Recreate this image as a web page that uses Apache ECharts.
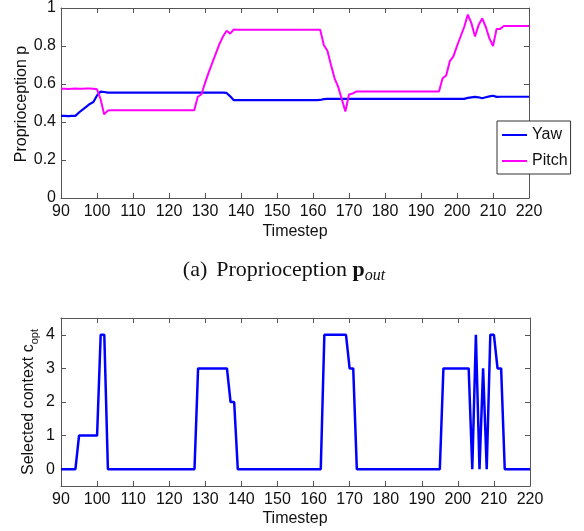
<!DOCTYPE html>
<html><head><meta charset="utf-8">
<script src="https://cdn.jsdelivr.net/npm/echarts@6/dist/echarts.min.js"></script>
<style>html,body{margin:0;padding:0;background:#fff}#c{width:584px;height:531px}</style>
</head><body><div id="c"></div>
<script>
const timesteps = [90,91,92,93,94,95,96,97,98,99,100,101,102,103,104,105,106,107,108,109,110,111,112,113,114,115,116,117,118,119,120,121,122,123,124,125,126,127,128,129,130,131,132,133,134,135,136,137,138,139,140,141,142,143,144,145,146,147,148,149,150,151,152,153,154,155,156,157,158,159,160,161,162,163,164,165,166,167,168,169,170,171,172,173,174,175,176,177,178,179,180,181,182,183,184,185,186,187,188,189,190,191,192,193,194,195,196,197,198,199,200,201,202,203,204,205,206,207,208,209,210,211,212,213,214,215,216,217,218,219,220];
const yaw = [0.432,0.432,0.431,0.432,0.432,
  0.45,0.465,0.48,0.495,0.505,0.54,0.56,0.558,
  0.555,0.555,0.555,0.555,0.555,0.555,0.555,0.555,0.555,0.555,0.555,0.555,0.555,0.555,0.555,0.555,0.555,0.555,0.555,0.555,0.555,0.555,0.555,0.555,0.555,0.555,0.555,0.555,0.555,0.555,0.555,0.555,0.555,0.553,
  0.535,0.515,
  0.515,0.515,0.515,0.515,0.515,0.515,0.515,0.515,0.515,0.515,0.515,0.515,0.515,0.515,0.515,0.515,0.515,0.515,0.515,0.515,0.515,0.515,0.515,0.516,
  0.52,0.522,0.522,0.522,0.522,0.522,0.522,0.522,0.522,0.522,0.522,0.522,0.522,0.522,0.522,0.522,0.522,0.522,0.522,0.522,0.522,0.522,0.522,0.522,0.522,0.522,0.522,0.522,0.522,0.522,0.522,0.522,0.522,0.522,0.522,0.522,0.522,0.522,0.522,0.522,
  0.527,0.53,0.532,0.53,0.525,0.53,0.535,0.538,0.532,
  0.533,0.533,0.533,0.533,0.533,0.533,0.533,0.533,0.533];
const pitch = [0.575,0.575,0.574,0.575,0.576,0.575,0.575,0.576,0.576,0.575,0.572,
  0.52,0.44,0.46,
  0.462,0.462,0.462,0.462,0.462,0.462,0.462,0.462,0.462,0.462,0.462,0.462,0.462,0.462,0.462,0.462,0.462,0.462,0.462,0.462,0.462,0.462,0.462,0.462,
  0.533,0.545,0.605,0.66,0.71,0.76,0.81,0.85,0.88,0.865,0.887,
  0.885,0.885,0.885,0.885,0.885,0.885,0.885,0.885,0.885,0.885,0.885,0.885,0.885,0.885,0.885,0.885,0.885,0.885,0.885,0.885,0.885,0.885,0.885,0.885,
  0.805,0.775,0.70,0.63,0.585,0.52,0.455,0.545,0.55,0.56,
  0.56,0.56,0.56,0.56,0.56,0.56,0.56,0.56,0.56,0.56,0.56,0.56,0.56,0.56,0.56,0.56,0.56,0.56,0.56,0.56,0.56,0.56,0.56,
  0.63,0.645,0.72,0.745,0.80,0.85,0.90,0.965,0.92,0.85,0.91,0.945,0.90,0.84,0.80,0.89,0.89,0.905,
  0.905,0.905,0.905,0.905,0.905,0.905,0.905];
const context = [0,0,0,0,0,
  1,1,1,1,1,1,
  4,4,
  0,0,0,0,0,0,0,0,0,0,0,0,0,0,0,0,0,0,0,0,0,0,0,0,0,
  3,3,3,3,3,3,3,3,3,
  2,2,
  0,0,0,0,0,0,0,0,0,0,0,0,0,0,0,0,0,0,0,0,0,0,0,0,
  4,4,4,4,4,4,4,
  3,3,
  0,0,0,0,0,0,0,0,0,0,0,0,0,0,0,0,0,0,0,0,0,0,0,0,
  3,3,3,3,3,3,3,3,
  0,4,0,3,0,4,4,3,3,
  0,0,0,0,0,0,0,0];
const pTicks = [0,0.2,0.4,0.6,0.8,1];
const cTicks = [0,1,2,3,4];

const FONT = '"Liberation Sans", Arial, Helvetica, sans-serif';
const SERIF = '"Liberation Serif", "Times New Roman", serif';
const AX = '#555';
const pairs = (ys) => timesteps.map((t, i) => [t, ys[i]]);

function xAx(gi, pos, labels) {
  return {
    type: 'value', gridIndex: gi, position: pos, min: 90, max: 220, interval: 10,
    axisLine: { show: true, onZero: false, lineStyle: { color: AX, width: 1 } },
    axisTick: { show: true, inside: true, length: 5, lineStyle: { color: AX } },
    axisLabel: { show: labels, margin: 6, fontSize: 16, fontFamily: FONT, color: '#111' },
    splitLine: { show: false }
  };
}
function yAx(gi, pos, labels, extra) {
  return Object.assign({
    type: 'value', gridIndex: gi, position: pos,
    axisLine: { show: true, onZero: false, lineStyle: { color: AX, width: 1 } },
    axisTick: { show: true, inside: true, length: 5, lineStyle: { color: AX } },
    axisLabel: { show: labels, margin: 5, fontSize: 16, fontFamily: FONT, color: '#111' },
    splitLine: { show: false }
  }, extra);
}

const chart = echarts.init(document.getElementById('c'), null, { renderer: 'canvas' });
chart.setOption({
  animation: false,
  backgroundColor: '#fff',
  grid: [
    { left: 61, top: 8, width: 468, height: 190 },
    { left: 61, top: 318, width: 469, height: 168 }
  ],
  xAxis: [xAx(0, 'bottom', true), xAx(0, 'top', false), xAx(1, 'bottom', true), xAx(1, 'top', false)],
  yAxis: [
    yAx(0, 'left', true, { min: 0, max: 1, interval: 0.2 }),
    yAx(0, 'right', false, { min: 0, max: 1, interval: 0.2 }),
    (function(){ const a = yAx(1, 'left', true, { min: -0.5, max: 4.5 }); a.axisTick.customValues = cTicks; a.axisLabel.customValues = cTicks; a.axisLabel.margin = 6; return a; })(),
    (function(){ const a = yAx(1, 'right', false, { min: -0.5, max: 4.5 }); a.axisTick.customValues = cTicks; a.axisLabel.customValues = cTicks; return a; })()
  ],
  legend: {
    data: ['Yaw', 'Pitch'], orient: 'vertical', left: 497, top: 121,
    padding: [5, 3, 4, 5], itemWidth: 25, itemHeight: 2, itemGap: 8, icon: 'rect',
    backgroundColor: '#fff', borderColor: '#333', borderWidth: 1, borderRadius: 0,
    textStyle: { fontSize: 16, fontFamily: FONT, color: '#111', lineHeight: 18 }
  },
  series: [
    { name: 'Yaw', type: 'line', xAxisIndex: 0, yAxisIndex: 0, data: pairs(yaw), symbol: 'none',
      lineStyle: { color: '#0000ff', width: 2.2 }, itemStyle: { color: '#0000ff' } },
    { name: 'Pitch', type: 'line', xAxisIndex: 0, yAxisIndex: 0, data: pairs(pitch), symbol: 'none',
      lineStyle: { color: '#ff00ff', width: 2 }, itemStyle: { color: '#ff00ff' } },
    { name: 'Context', type: 'line', xAxisIndex: 2, yAxisIndex: 2, data: pairs(context), symbol: 'none',
      lineStyle: { color: '#0000ff', width: 2.5 }, itemStyle: { color: '#0000ff' } }
  ],
  graphic: [
    { type: 'text', x: 22, y: 104, rotation: Math.PI / 2,
      style: { text: 'Proprioception p', font: '16px ' + FONT, fill: '#111', align: 'center', verticalAlign: 'middle', textAlign: 'center', textVerticalAlign: 'middle' } },
    { type: 'text', x: 295, y: 232,
      style: { text: 'Timestep', font: '16px ' + FONT, fill: '#111', align: 'center', verticalAlign: 'middle', textAlign: 'center', textVerticalAlign: 'middle' } },
    { type: 'text', x: 284, y: 270,
      style: { text: '{a|(a)}{n|Proprioception }{b|p}{s|out}', align: 'center', verticalAlign: 'middle', textAlign: 'center', textVerticalAlign: 'middle', fill: '#111',
        rich: {
          a: { fontFamily: SERIF, fontSize: 22, lineHeight: 28, padding: [0, 9, 0, 0], color: '#111' },
          n: { fontFamily: SERIF, fontSize: 22, lineHeight: 28, color: '#111' },
          b: { fontFamily: SERIF, fontSize: 22, fontWeight: 'bold', lineHeight: 28, color: '#111' },
          s: { fontFamily: SERIF, fontSize: 16, fontStyle: 'italic', lineHeight: 16, verticalAlign: 'bottom', color: '#111' }
        } } },
    { type: 'text', x: 29, y: 402, rotation: Math.PI / 2,
      style: { text: '{m|Selected context c}{s|opt}', align: 'center', verticalAlign: 'middle', textAlign: 'center', textVerticalAlign: 'middle', fill: '#111',
        rich: {
          m: { fontFamily: FONT, fontSize: 16, lineHeight: 22, color: '#111' },
          s: { fontFamily: FONT, fontSize: 11, lineHeight: 11, verticalAlign: 'bottom', color: '#111' }
        } } },
    { type: 'text', x: 295, y: 519,
      style: { text: 'Timestep', font: '16px ' + FONT, fill: '#111', align: 'center', verticalAlign: 'middle', textAlign: 'center', textVerticalAlign: 'middle' } }
  ]
});
</script>
</body></html>
